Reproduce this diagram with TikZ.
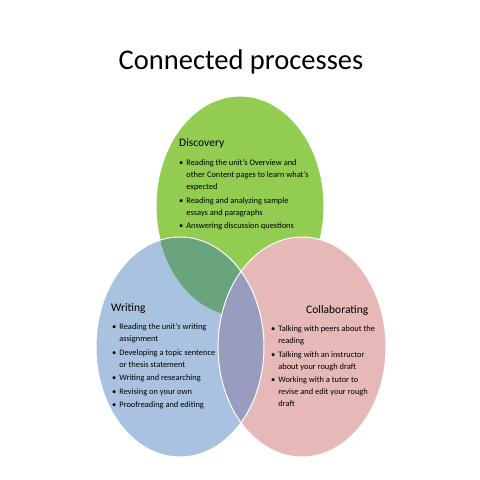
\documentclass[tikz,border=0pt]{standalone}
\usepackage{fontspec}
\setmainfont{Carlito}
\usetikzlibrary{positioning}
\definecolor{discgreen}{RGB}{146,204,80}
\definecolor{writeblue}{RGB}{168,194,224}
\definecolor{collpink}{RGB}{230,184,184}
\definecolor{lensgreen}{RGB}{106,164,124}
\definecolor{lenspurple}{RGB}{152,156,190}
\tikzset{
  petal/.style={draw=white,line width=1pt},
  heading/.style={anchor=base west,inner sep=0pt,font=\fontsize{11.5}{13}\selectfont},
  items/.style={anchor=north west,inner sep=0pt,align=left,font=\fontsize{8.4}{12}\selectfont},
  title/.style={anchor=base,inner sep=0pt,font=\fontsize{28.5}{32}\selectfont}
}
\newcommand{\bul}{\textbullet}
\begin{document}
\begin{tikzpicture}[x=1pt,y=-1pt]
  \useasboundingbox (0,0) rectangle (480,480);
  \fill[white] (0,0) rectangle (480,480);
  % the three sets
  \fill[discgreen] (240,206) ellipse (84 and 110);
  \draw[petal] (240,206) ellipse (84 and 110);
  \fill[writeblue] (180,347) ellipse (84 and 110);
  \fill[collpink] (302,347) ellipse (84 and 110);
  % overlaps
  \begin{scope}
    \clip (180,347) ellipse (84 and 110);
    \fill[lensgreen] (240,206) ellipse (84 and 110);
    \fill[lenspurple] (302,347) ellipse (84 and 110);
  \end{scope}
  \draw[petal] (180,347) ellipse (84 and 110);
  \draw[petal] (302,347) ellipse (84 and 110);
  % texts
  \node[title] (title) at (241,69) {Connected processes};
  \node[heading] (disc) at (179,146) {Discovery};
  \node[items] (discitems) at (179,157) {%
    \begin{tabular}{@{}l@{\hspace{3pt}}l@{}}
      \bul & Reading the unit’s Overview and\\
           & other Content pages to learn what’s\\
           & expected\\[1.5pt]
      \bul & Reading and analyzing sample\\
           & essays and paragraphs\\[1.5pt]
      \bul & Answering discussion questions
    \end{tabular}};
  \node[heading] (writ) at (111,311) {Writing};
  \node[items] (writitems) at (112,321) {%
    \begin{tabular}{@{}l@{\hspace{3pt}}l@{}}
      \bul & Reading the unit’s writing\\
           & assignment\\[1.5pt]
      \bul & Developing a topic sentence\\
           & or thesis statement\\[1.5pt]
      \bul & Writing and researching\\[1.5pt]
      \bul & Revising on your own\\[1.5pt]
      \bul & Proofreading and editing
    \end{tabular}};
  \node[heading] (coll) at (306,313) {Collaborating};
  \node[items] (collitems) at (271,323) {%
    \begin{tabular}{@{}l@{\hspace{3pt}}l@{}}
      \bul & Talking with peers about the\\
           & reading\\[1.5pt]
      \bul & Talking with an instructor\\
           & about your rough draft\\[1.5pt]
      \bul & Working with a tutor to\\
           & revise and edit your rough\\
           & draft
    \end{tabular}};
\end{tikzpicture}
\end{document}
